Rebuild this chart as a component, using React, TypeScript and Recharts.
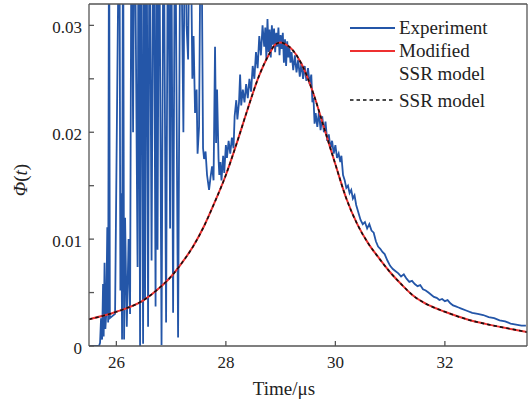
import React from 'react';
import { LineChart, Line, XAxis, YAxis } from 'recharts';

// Experiment: [time (µs), Φ(t)] — values above 0.032 are off-scale spikes (clipped)
const experiment: [number, number][] = [
  [25.483, 0], [25.684, 0], [25.702, 0.0003], [25.72, 0.0026], [25.739, 0.0006], [25.757, 0.0058],
  [25.768, 0.0009], [25.784, 0.0078], [25.799, 0.0016], [25.815, 0.003], [25.834, 0.0111], [25.85, 0.0022],
  [25.867, 0.045], [25.881, 0.0026], [25.976, 0.003], [26.055, 0.045], [26.073, 0.0052], [26.09, 0.0143],
  [26.104, 0.0006], [26.122, 0.045], [26.141, 0.0006], [26.159, 0.012], [26.19, 0.0018], [26.223, 0.01],
  [26.25, 0.003], [26.278, 0.045], [26.305, 0.02], [26.332, 0.045], [26.387, 0.0074], [26.405, 0.045],
  [26.433, 0.0], [26.451, 0.045], [26.488, 0.0002], [26.506, 0.045], [26.524, 0.0043], [26.551, 0.045],
  [26.579, 0.0018], [26.606, 0.045], [26.643, 0.008], [26.679, 0.045], [26.716, 0.0037], [26.734, 0.045],
  [26.752, 0.009], [26.78, 0.045], [26.825, 0.0001], [26.862, 0.045], [26.908, 0.0022], [26.944, 0.045],
  [26.981, 0.011], [26.999, 0.045], [27.036, 0.0031], [27.072, 0.045], [27.127, 0.0008], [27.172, 0.045],
  [27.224, 0.02], [27.255, 0.045], [27.282, 0.03], [27.31, 0.0268], [27.346, 0.045], [27.388, 0.025],
  [27.41, 0.029], [27.437, 0.0218], [27.465, 0.024], [27.483, 0.018], [27.51, 0.0205], [27.547, 0.045],
  [27.583, 0.0185], [27.602, 0.0175], [27.629, 0.0182], [27.656, 0.016], [27.693, 0.0146], [27.72, 0.0158],
  [27.748, 0.0168], [27.775, 0.0155], [27.802, 0.028], [27.821, 0.019], [27.839, 0.024], [27.866, 0.0175],
  [27.88, 0.016], [27.9, 0.0172], [27.92, 0.0155], [27.95, 0.0178], [27.97, 0.0162], [28.0, 0.0188],
  [28.02, 0.0176], [28.05, 0.0192], [28.08, 0.018], [28.11, 0.0195], [28.14, 0.0185], [28.16, 0.0215],
  [28.19, 0.023], [28.21, 0.0212], [28.24, 0.0228], [28.26, 0.0254], [28.28, 0.0225], [28.31, 0.024],
  [28.34, 0.0228], [28.37, 0.0245], [28.4, 0.0232], [28.43, 0.025], [28.46, 0.0238], [28.49, 0.0262],
  [28.52, 0.025], [28.55, 0.0275], [28.58, 0.026], [28.61, 0.029], [28.64, 0.0272], [28.67, 0.03],
  [28.7, 0.028], [28.72, 0.0298], [28.74, 0.0268], [28.76, 0.0306], [28.78, 0.0275], [28.8, 0.0296],
  [28.82, 0.027], [28.84, 0.03], [28.86, 0.0282], [28.88, 0.0297], [28.9, 0.0275], [28.92, 0.0293],
  [28.94, 0.028], [28.96, 0.0298], [28.98, 0.0272], [29.0, 0.0291], [29.02, 0.0278], [29.04, 0.0293],
  [29.06, 0.0265], [29.08, 0.0287], [29.1, 0.0262], [29.12, 0.0285], [29.14, 0.027], [29.16, 0.028],
  [29.18, 0.0265], [29.2, 0.0275], [29.23, 0.0258], [29.26, 0.0272], [29.29, 0.0256], [29.32, 0.0268],
  [29.35, 0.0252], [29.38, 0.0265], [29.41, 0.025], [29.44, 0.0262], [29.47, 0.0248], [29.5, 0.026],
  [29.53, 0.0245], [29.56, 0.0254], [29.58, 0.0228], [29.6, 0.0232], [29.62, 0.0208], [29.64, 0.0218],
  [29.67, 0.0205], [29.7, 0.0219], [29.73, 0.0202], [29.76, 0.0215], [29.79, 0.02], [29.82, 0.021],
  [29.85, 0.0192], [29.88, 0.0198], [29.91, 0.0185], [29.94, 0.0192], [29.97, 0.018], [30.0, 0.0188],
  [30.03, 0.0176], [30.06, 0.018], [30.09, 0.0172], [30.11, 0.0178], [30.14, 0.016], [30.17, 0.0155],
  [30.2, 0.0148], [30.23, 0.015], [30.26, 0.0143], [30.29, 0.0146], [30.32, 0.0138], [30.35, 0.0141],
  [30.38, 0.0132], [30.42, 0.0125], [30.46, 0.0118], [30.5, 0.0114], [30.54, 0.0116], [30.58, 0.011],
  [30.62, 0.0114], [30.66, 0.0108], [30.7, 0.0106], [30.74, 0.0098], [30.78, 0.0093], [30.82, 0.0091],
  [30.86, 0.0088], [30.9, 0.0086], [30.95, 0.008], [31.0, 0.0075], [31.05, 0.0072], [31.1, 0.007],
  [31.15, 0.0068], [31.2, 0.0065], [31.25, 0.0067], [31.3, 0.0063], [31.35, 0.006], [31.4, 0.0061],
  [31.45, 0.0058], [31.5, 0.0056], [31.55, 0.0057], [31.6, 0.0053], [31.65, 0.0052], [31.7, 0.005],
  [31.75, 0.0048], [31.8, 0.0046], [31.85, 0.0045], [31.9, 0.0043], [31.95, 0.0044], [32.0, 0.0042],
  [32.05, 0.0043], [32.1, 0.004], [32.15, 0.0038], [32.2, 0.0037], [32.25, 0.0036], [32.3, 0.0035],
  [32.4, 0.0033], [32.5, 0.0031], [32.6, 0.003], [32.7, 0.0029], [32.8, 0.0027], [32.9, 0.0026],
  [33.0, 0.0024], [33.1, 0.0023], [33.2, 0.0021], [33.3, 0.002], [33.4, 0.0019], [33.48, 0.0019],
];

const modelTimes = [
  25.5, 26.0, 26.5, 26.8, 27.0, 27.2, 27.4, 27.6, 27.8, 28.0, 28.2, 28.4, 28.6, 28.8, 28.9, 29.0,
  29.1, 29.2, 29.4, 29.6, 29.8, 30.0, 30.2, 30.4, 30.6, 30.8, 31.0, 31.2, 31.4, 31.6, 31.8, 32.0,
  32.4, 32.8, 33.2, 33.5,
];
const modifiedSSR = [
  0.0025, 0.0032, 0.0043, 0.0055, 0.0065, 0.0078, 0.0093, 0.0112, 0.0135, 0.016, 0.019, 0.0222,
  0.0252, 0.0274, 0.0282, 0.0284, 0.0282, 0.0278, 0.0262, 0.0236, 0.0203, 0.017, 0.0138, 0.0114,
  0.0096, 0.0082, 0.0069, 0.0058, 0.0048, 0.0041, 0.0036, 0.0032, 0.0025, 0.002, 0.0016, 0.0013,
];
const ssr = [
  0.0025, 0.0032, 0.0043, 0.0055, 0.0065, 0.0078, 0.0093, 0.0112, 0.0135, 0.016, 0.019, 0.0222,
  0.0252, 0.0274, 0.0282, 0.0284, 0.0282, 0.0278, 0.0262, 0.0236, 0.0203, 0.017, 0.0138, 0.0114,
  0.0096, 0.0082, 0.0069, 0.0058, 0.0048, 0.0041, 0.0036, 0.0032, 0.0025, 0.002, 0.0016, 0.0013,
];

const xTicks = [26, 28, 30, 32];
const yTicks = [0, 0.005, 0.01, 0.015, 0.02, 0.025, 0.03];
const yLabels: Record<string, string> = { '0': '0', '0.01': '0.01', '0.02': '0.02', '0.03': '0.03' };

const expData = experiment.map(([t, phi]) => ({ t, phi }));
const modelData = modelTimes.map((t, i) => ({ t, mod: modifiedSSR[i], ssr: ssr[i] }));

const FONT = "'Liberation Serif', 'Times New Roman', serif";
const AXIS = '#555';
const BLUE = '#2456A8';
const RED = '#EE3030';

export default function App() {
  return (
    <div style={{ position: 'absolute', left: 0, top: 0, width: 528, height: 403, background: '#fff' }}>
      <LineChart width={528} height={403} margin={{ top: 3, right: 0, bottom: 0, left: 0 }}>
        <XAxis
          xAxisId="b" type="number" dataKey="t" domain={[25.5, 33.5]} allowDataOverflow
          ticks={xTicks} height={57} tickSize={-5} tickMargin={15}
          stroke={AXIS} strokeWidth={1.3}
          tick={{ fill: '#222', fontSize: 17, fontFamily: FONT }}
        />
        <XAxis
          xAxisId="t" orientation="top" type="number" dataKey="t" domain={[25.5, 33.5]} allowDataOverflow
          ticks={xTicks} height={1} tickSize={-5} tick={false} stroke={AXIS} strokeWidth={1.3}
        />
        <YAxis
          yAxisId="l" type="number" domain={[0, 0.032]} allowDataOverflow ticks={yTicks}
          width={89} tickSize={-5} tickMargin={12} stroke={AXIS} strokeWidth={1.3}
          tickFormatter={(v: number) => yLabels[String(v)] ?? ''}
          tick={{ fill: '#222', fontSize: 17, fontFamily: FONT, dy: 2 }}
        />
        <YAxis
          yAxisId="r" orientation="right" type="number" domain={[0, 0.032]} allowDataOverflow ticks={yTicks}
          width={1} tickSize={-5} tick={false} stroke={AXIS} strokeWidth={1.3}
        />
        <Line
          xAxisId="b" yAxisId="l" data={expData} dataKey="phi" type="linear"
          stroke={BLUE} strokeWidth={1.8} dot={false} isAnimationActive={false}
        />
        <Line
          xAxisId="b" yAxisId="l" data={modelData} dataKey="mod" type="monotone"
          stroke={RED} strokeWidth={2} dot={false} isAnimationActive={false}
        />
        <Line
          xAxisId="b" yAxisId="l" data={modelData} dataKey="ssr" type="monotone"
          stroke="#111" strokeWidth={1.6} strokeDasharray="3.5 3" dot={false} isAnimationActive={false}
        />
      </LineChart>
      <svg
        width={528} height={403}
        style={{ position: 'absolute', left: 0, top: 0, pointerEvents: 'none' }}
        fontFamily={FONT} fill="#222"
      >
        <line x1={350} y1={28} x2={395} y2={28} stroke={BLUE} strokeWidth={2} />
        <text x={399} y={34} fontSize={19}>Experiment</text>
        <line x1={350} y1={51} x2={395} y2={51} stroke={RED} strokeWidth={2} />
        <text x={399} y={57} fontSize={19}>Modified</text>
        <text x={399} y={80} fontSize={19}>SSR model</text>
        <line x1={350} y1={100} x2={395} y2={100} stroke="#111" strokeWidth={1.6} strokeDasharray="3.5 3" />
        <text x={399} y={107} fontSize={19}>SSR model</text>
        <text x={284} y={395} fontSize={19} textAnchor="middle">Time/μs</text>
        <text x={27} y={180} fontSize={19} textAnchor="middle" transform="rotate(-90 27 180)">
          <tspan fontStyle="italic">Φ</tspan>(<tspan fontStyle="italic">t</tspan>)
        </text>
      </svg>
    </div>
  );
}
